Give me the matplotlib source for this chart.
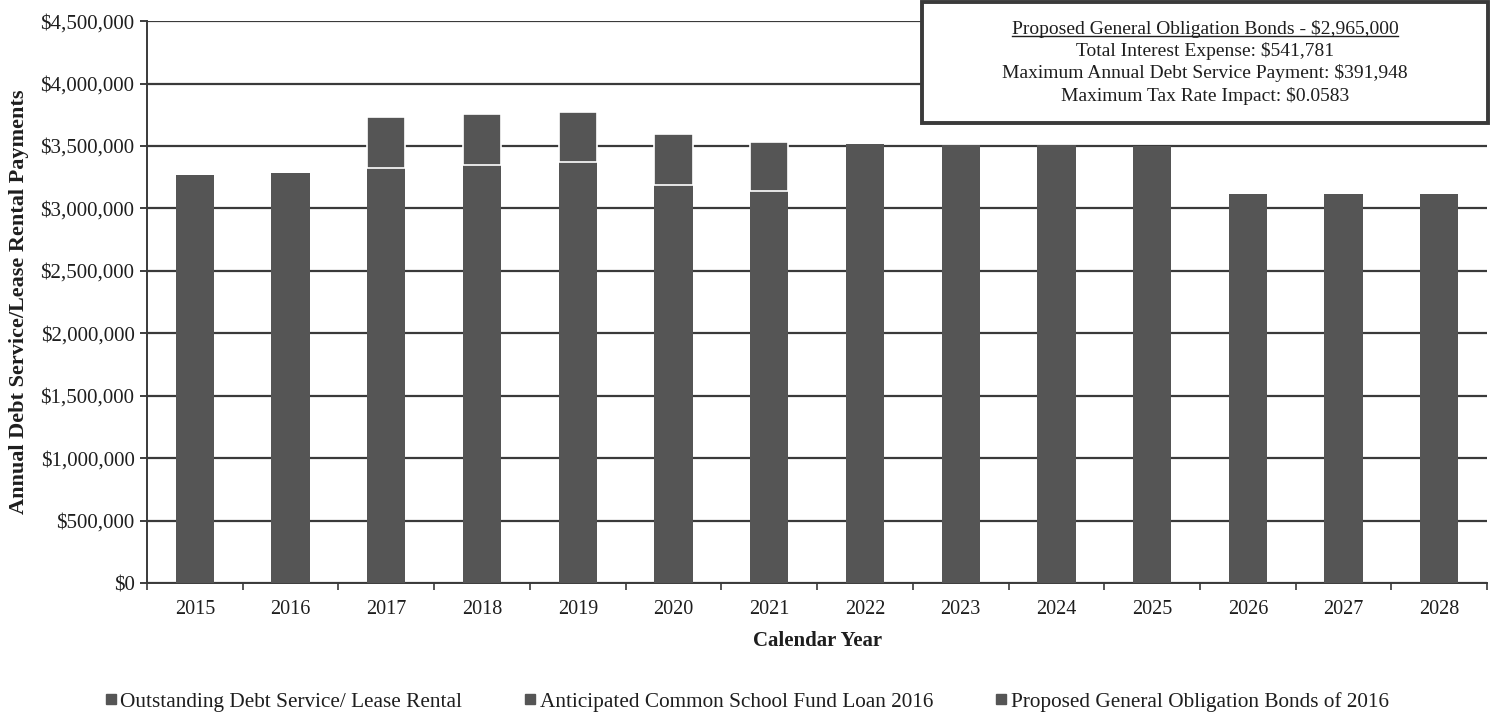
import numpy as np
import matplotlib.pyplot as plt
from matplotlib.patches import Rectangle
from matplotlib.lines import Line2D
from matplotlib.ticker import FuncFormatter

plt.rcParams['font.family'] = ['Liberation Serif', 'DejaVu Serif']

years = ['2015', '2016', '2017', '2018', '2019', '2020', '2021',
         '2022', '2023', '2024', '2025', '2026', '2027', '2028']

# (approx.)
outstanding = [3270000, 3285000, 3323000, 3347000, 3371000, 3190000, 3140000,
               3515000, 3505000, 3505000, 3500000, 3115000, 3115000, 3115000]
csf_loan = [0, 0, 0, 0, 0, 0, 0, 0, 0, 0, 0, 0, 0, 0]
proposed = [0, 0, 410000, 408000, 400000, 405000, 390000,
            0, 0, 0, 0, 0, 0, 0]

labels = ['Outstanding Debt Service/ Lease Rental',
          'Anticipated Common School Fund Loan 2016',
          'Proposed General Obligation Bonds of 2016']

box_lines = ['Proposed General Obligation Bonds - $2,965,000',
             'Total Interest Expense: $541,781',
             'Maximum Annual Debt Service Payment: $391,948',
             'Maximum Tax Rate Impact: $0.0583']

bar_color = '#555555'
text_color = '#1e1e1e'


def draw_chart():
    fig = plt.figure(figsize=(14.94, 7.13), dpi=100)
    ax = fig.add_axes([0.0984, 0.1823, 0.897, 0.788])

    ind = np.arange(len(years))
    width = 0.4
    out = np.array(outstanding)
    loan = np.array(csf_loan)
    prop = np.array(proposed)

    ax.bar(ind, out, width, color=bar_color, zorder=3)
    ax.bar(ind, loan, width, bottom=out, color=bar_color, zorder=3)
    top = ax.bar(ind, prop, width, bottom=out + loan, color=bar_color,
                 edgecolor='white', linewidth=1.2, zorder=3)
    for rect, p in zip(top, prop):
        if p == 0:
            rect.set_visible(False)

    ax.set_ylim(0, 4500000)
    ax.set_xlim(-0.5, 13.5)
    ax.set_yticks(np.arange(0, 4500001, 500000))
    ax.yaxis.set_major_formatter(FuncFormatter(lambda v, p: '${:,.0f}'.format(v)))
    ax.yaxis.grid(True, color='#3a3a3a', linewidth=1.6, zorder=0)
    ax.set_axisbelow(True)

    ax.set_xticks(ind)
    ax.set_xticklabels(years)
    ax.set_xticks(np.arange(-0.5, 14, 1.0), minor=True)
    ax.tick_params(axis='x', which='major', length=0, labelsize=14.5, pad=12, colors=text_color)
    ax.tick_params(axis='x', which='minor', length=5, width=1.2, direction='out', color='#3a3a3a')
    ax.tick_params(axis='y', length=5, width=1.2, labelsize=15, pad=4, colors=text_color)

    for s in ['top', 'right']:
        ax.spines[s].set_visible(False)
    for s in ['left', 'bottom']:
        ax.spines[s].set_color('#3a3a3a')
        ax.spines[s].set_linewidth(1.4)

    ax.set_ylabel('Annual Debt Service/Lease Rental Payments', fontsize=16,
                  fontweight='bold', color=text_color, labelpad=8)
    ax.set_xlabel('Calendar Year', fontsize=15, fontweight='bold',
                  color=text_color, labelpad=9)

    handles = [Line2D([], [], marker='s', linestyle='none', color=bar_color, markersize=7)
               for _ in labels]
    fig.legend(handles, labels, loc='center', bbox_to_anchor=(0.499, 0.016),
               ncol=3, frameon=False, fontsize=15.3, handletextpad=0.05,
               handlelength=0.8, columnspacing=2.8, labelcolor=text_color,
               borderpad=0, borderaxespad=0)

    # annotation box
    box = Rectangle((0.617, 0.8275), 0.379, 0.170, transform=fig.transFigure,
                    facecolor='white', edgecolor='#3a3a3a', linewidth=2.8, zorder=5)
    fig.patches.append(box)
    cx = 0.8065
    ys = [0.959, 0.928, 0.897, 0.866]
    texts = []
    for y, t in zip(ys, box_lines):
        texts.append(fig.text(cx, y, t, ha='center', va='center', fontsize=14,
                              color=text_color, zorder=6))

    # underline the first box line
    fig.canvas.draw()
    bb = texts[0].get_window_extent().transformed(fig.transFigure.inverted())
    fig.add_artist(Line2D([bb.x0, bb.x1], [bb.y0 + 0.003, bb.y0 + 0.003],
                          transform=fig.transFigure, color=text_color, linewidth=1, zorder=6))

    plt.savefig('out.png')


if __name__ == '__main__':
    draw_chart()
